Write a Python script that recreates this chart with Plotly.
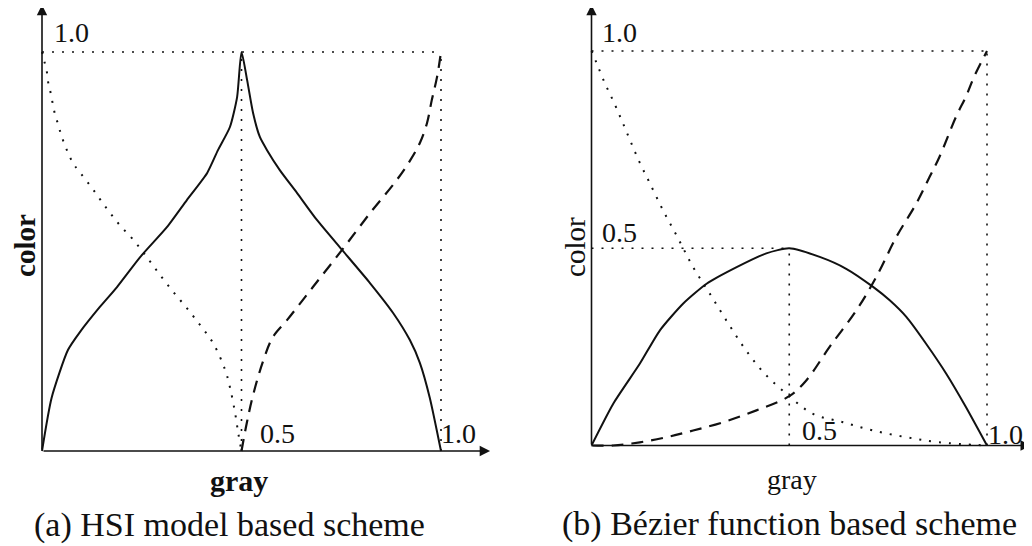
import plotly.graph_objects as go

# ---------------- Data ----------------
# (a) HSI model based scheme
hsi_solid_x = [0, 0.024, 0.065, 0.095, 0.145, 0.188, 0.246, 0.313, 0.363, 0.414, 0.441, 0.471, 0.489, 0.5,
               0.514, 0.529, 0.546, 0.564, 0.596, 0.639, 0.689, 0.752, 0.822, 0.880, 0.922, 0.947, 0.972, 1.0]
hsi_solid_y = [0, 0.133, 0.253, 0.298, 0.361, 0.411, 0.486, 0.561, 0.629, 0.697, 0.754, 0.812, 0.887, 1.0,
               0.93, 0.847, 0.787, 0.754, 0.704, 0.647, 0.579, 0.504, 0.421, 0.346, 0.278, 0.221, 0.133, 0.0]

hsi_dotted_x = [0, 0.006, 0.012, 0.016, 0.022, 0.027, 0.033, 0.041, 0.048, 0.058, 0.068, 0.08, 0.097, 0.129,
                0.162, 0.195, 0.229, 0.262, 0.296, 0.329, 0.363, 0.396, 0.429, 0.459, 0.471, 0.484, 0.492, 0.5]
hsi_dotted_y = [1.0, 0.976, 0.951, 0.921, 0.896, 0.870, 0.842, 0.817, 0.792, 0.765, 0.741, 0.718, 0.696, 0.654,
                0.608, 0.566, 0.529, 0.487, 0.441, 0.399, 0.358, 0.316, 0.27, 0.203, 0.16, 0.095, 0.044, 0.0]

hsi_dashed_x = [0.5, 0.513, 0.529, 0.555, 0.579, 0.614, 0.679, 0.752, 0.822, 0.889, 0.922, 0.947, 0.965, 0.977, 0.99, 1.0]
hsi_dashed_y = [0.0, 0.069, 0.14, 0.228, 0.286, 0.328, 0.411, 0.504, 0.596, 0.679, 0.727, 0.772, 0.822, 0.88, 0.937, 1.0]

# (b) Bezier function based scheme
bez_solid_x = [0, 0.055, 0.122, 0.173, 0.232, 0.291, 0.367, 0.442, 0.5, 0.577, 0.644, 0.712, 0.754, 0.796,
               0.846, 0.897, 0.947, 1.0]
bez_solid_y = [0, 0.106, 0.207, 0.292, 0.36, 0.41, 0.452, 0.487, 0.5, 0.478, 0.448, 0.402, 0.368, 0.326,
               0.258, 0.182, 0.097, 0.0]

bez_dotted_x = [0, 0.013, 0.034, 0.057, 0.079, 0.1, 0.122, 0.146, 0.181, 0.219, 0.257, 0.299, 0.341, 0.388,
                0.438, 0.5, 0.56, 0.636, 0.712, 0.796, 0.88, 1.0]
bez_dotted_y = [1.0, 0.969, 0.918, 0.869, 0.818, 0.768, 0.717, 0.668, 0.596, 0.525, 0.452, 0.385, 0.317, 0.245,
                0.182, 0.125, 0.08, 0.059, 0.038, 0.021, 0.008, 0.0]

bez_dashed_x = [0, 0.055, 0.122, 0.19, 0.257, 0.333, 0.417, 0.5, 0.543, 0.602, 0.67, 0.72, 0.771, 0.821,
                0.855, 0.88, 0.922, 0.947, 0.968, 1.0]
bez_dashed_y = [0, 0.0, 0.008, 0.021, 0.038, 0.059, 0.089, 0.125, 0.165, 0.25, 0.343, 0.427, 0.529, 0.613,
                0.681, 0.732, 0.834, 0.885, 0.936, 1.0]

# guide lines (dotted)
hsi_guides = [([0, 1], [1, 1]), ([0.5, 0.5], [0, 1]), ([1, 1], [0, 1])]
bez_guides = [([0, 1], [1, 1]), ([1, 1], [0, 1]), ([0, 0.5], [0.5, 0.5]), ([0.5, 0.5], [0, 0.5])]

# tick labels
hsi_labels = [("1.0", 0.073, 1.050), ("0.5", 0.589, 0.045), ("1.0", 1.043, 0.045)]
bez_labels = [("1.0", 0.072, 1.046), ("0.5", 0.071, 0.541), ("0.5", 0.576, 0.039), ("1.0", 1.047, 0.027)]

captions = ["(a) HSI model based scheme", "(b) Bézier function based scheme"]
x_title = "gray"
y_title = "color"

# ---------------- Figure ----------------
INK = "#111111"
SERIF = "Liberation Serif, Times New Roman, serif"
DOT = "2px,8px"
DASH = "12px,8px"

fig = go.Figure()

def add_panel(xa, ya, solid, dotted, dashed, guides):
    for gx, gy in guides:
        fig.add_trace(go.Scatter(x=gx, y=gy, mode="lines", xaxis=xa, yaxis=ya,
                                 line=dict(color=INK, width=1.6, dash=DOT), hoverinfo="skip"))
    fig.add_trace(go.Scatter(x=solid[0], y=solid[1], mode="lines", xaxis=xa, yaxis=ya,
                             line=dict(color=INK, width=2, shape="spline", smoothing=0.6), hoverinfo="skip"))
    fig.add_trace(go.Scatter(x=dotted[0], y=dotted[1], mode="lines", xaxis=xa, yaxis=ya,
                             line=dict(color=INK, width=2, dash=DOT, shape="spline"), hoverinfo="skip"))
    fig.add_trace(go.Scatter(x=dashed[0], y=dashed[1], mode="lines", xaxis=xa, yaxis=ya,
                             line=dict(color=INK, width=2.2, dash=DASH, shape="spline"), hoverinfo="skip"))

add_panel("x", "y", (hsi_solid_x, hsi_solid_y), (hsi_dotted_x, hsi_dotted_y),
          (hsi_dashed_x, hsi_dashed_y), hsi_guides)
add_panel("x2", "y2", (bez_solid_x, bez_solid_y), (bez_dotted_x, bez_dotted_y),
          (bez_dashed_x, bez_dashed_y), bez_guides)

# the page body has an 8px margin, so the figure is drawn 8px in from the top-left
OFF = 8
W, H = 1032 - OFF, 546 - OFF
SPLIT = 516 - OFF
# pixel geometry of each panel (page pixels): origin & pixels per unit
L = dict(x0=42 - OFF, y0=451 - OFF, sx=399, sy=399)
R = dict(x0=591.5 - OFF, y0=445.5 - OFF, sx=395.5, sy=394.5)

def rng(g, xdom_px):
    xr = [(xdom_px[0] - g["x0"]) / g["sx"], (xdom_px[1] - g["x0"]) / g["sx"]]
    yr = [(g["y0"] - H) / g["sy"], g["y0"] / g["sy"]]
    return xr, yr

lxr, lyr = rng(L, (0, SPLIT))
rxr, ryr = rng(R, (SPLIT, W))

ax_common = dict(visible=False, showgrid=False, zeroline=False, fixedrange=True)
fig.update_layout(
    width=W, height=H, margin=dict(l=0, r=0, t=0, b=0),
    paper_bgcolor="white", plot_bgcolor="white", showlegend=False,
    xaxis=dict(domain=[0, SPLIT / W], range=lxr, **ax_common),
    yaxis=dict(domain=[0, 1], range=lyr, anchor="x", **ax_common),
    xaxis2=dict(domain=[SPLIT / W, 1], range=rxr, anchor="y2", **ax_common),
    yaxis2=dict(domain=[0, 1], range=ryr, anchor="x2", **ax_common),
)

ann = []
# axis arrows
for xr_, yr_, xtip, ytip in [("x", "y", 1.123, 1.118), ("x2", "y2", 1.111, 1.117)]:
    ann.append(dict(x=xtip, y=0, ax=0, ay=0, xref=xr_, yref=yr_, axref=xr_, ayref=yr_,
                    text="", showarrow=True, arrowhead=2, arrowsize=1.3, arrowwidth=1.6, arrowcolor=INK))
    ann.append(dict(x=0, y=ytip, ax=0, ay=0, xref=xr_, yref=yr_, axref=xr_, ayref=yr_,
                    text="", showarrow=True, arrowhead=2, arrowsize=1.3, arrowwidth=1.6, arrowcolor=INK))

for txt, lx, ly in hsi_labels:
    ann.append(dict(x=lx, y=ly, xref="x", yref="y", text=txt, showarrow=False,
                    font=dict(family=SERIF, size=28, color=INK)))
for txt, lx, ly in bez_labels:
    ann.append(dict(x=lx, y=ly, xref="x2", yref="y2", text=txt, showarrow=False,
                    font=dict(family=SERIF, size=28, color=INK)))

# axis titles
ann.append(dict(x=0.494, y=-0.073, xref="x", yref="y", text="<b>" + x_title + "</b>", showarrow=False,
                font=dict(family=SERIF, size=30, color=INK)))
ann.append(dict(x=-0.043, y=0.516, xref="x", yref="y", text="<b>" + y_title + "</b>", showarrow=False,
                textangle=-90, font=dict(family=SERIF, size=29, color=INK)))
ann.append(dict(x=0.507, y=-0.087, xref="x2", yref="y2", text=x_title, showarrow=False,
                font=dict(family=SERIF, size=28, color=INK)))
ann.append(dict(x=-0.042, y=0.503, xref="x2", yref="y2", text=y_title, showarrow=False,
                textangle=-90, font=dict(family=SERIF, size=29, color=INK)))

# captions
ann.append(dict(x=0.469, y=-0.185, xref="x", yref="y", text=captions[0], showarrow=False,
                font=dict(family=SERIF, size=34, color=INK)))
ann.append(dict(x=0.5, y=-0.2, xref="x2", yref="y2", text=captions[1], showarrow=False,
                font=dict(family=SERIF, size=34, color=INK)))

fig.update_layout(annotations=ann)
fig.write_html("out.html")
